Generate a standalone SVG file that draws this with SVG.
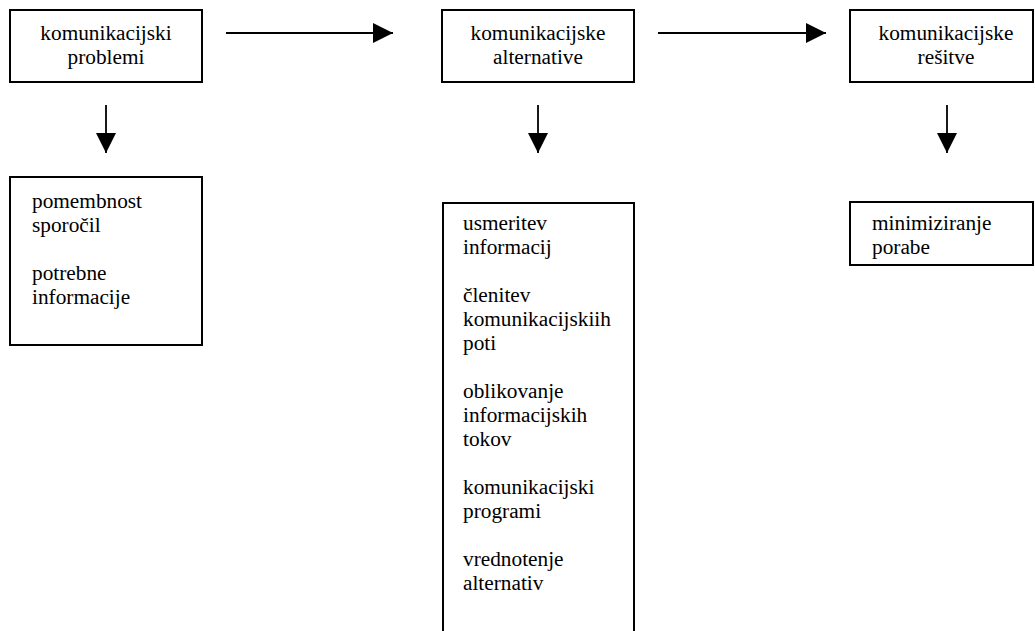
<svg xmlns="http://www.w3.org/2000/svg" width="1035" height="631" viewBox="0 0 1035 631">
<style>
.box{fill:#fff;stroke:#000;stroke-width:2}
.c{text-anchor:middle}
.ln{stroke:#000;stroke-width:1.8;fill:none}
</style>
<defs>
<marker id="ah" markerWidth="20" markerHeight="20" viewBox="0 0 20 20" refX="20" refY="10" orient="auto" markerUnits="userSpaceOnUse">
<path d="M0,0 L20,10 L0,20 Z" fill="#000"/>
</marker>
</defs>
<g id="connectors">
<line class="ln" x1="226" y1="33" x2="393" y2="33" marker-end="url(#ah)"/>
<line class="ln" x1="658" y1="33" x2="826" y2="33" marker-end="url(#ah)"/>
<line class="ln" x1="106" y1="105" x2="106" y2="153" marker-end="url(#ah)"/>
<line class="ln" x1="538" y1="105" x2="538" y2="153" marker-end="url(#ah)"/>
<line class="ln" x1="947" y1="105" x2="947" y2="153" marker-end="url(#ah)"/>
</g>
<g font-family="Liberation Serif, DejaVu Serif, serif" font-size="21.3" fill="#000">
<g id="n1">
<rect class="box" x="10" y="10" width="192" height="72"/>
<text class="c" x="106" y="40">komunikacijski</text>
<text class="c" x="106" y="64">problemi</text>
</g>
<g id="n2">
<rect class="box" x="442" y="10" width="192" height="72"/>
<text class="c" x="538" y="40">komunikacijske</text>
<text class="c" x="538" y="64">alternative</text>
</g>
<g id="n3">
<rect class="box" x="850" y="10" width="183" height="72"/>
<text class="c" x="946" y="40">komunikacijske</text>
<text class="c" x="946" y="64">rešitve</text>
</g>
<g id="n4">
<rect class="box" x="10" y="177" width="192" height="168"/>
<text x="32" y="208">pomembnost</text>
<text x="32" y="232">sporočil</text>
<text x="32" y="280">potrebne</text>
<text x="32" y="304">informacije</text>
</g>
<g id="n5">
<rect class="box" x="443" y="203" width="191" height="440"/>
<text x="463" y="230">usmeritev</text>
<text x="463" y="254">informacij</text>
<text x="463" y="302">členitev</text>
<text x="463" y="326">komunikacijskiih</text>
<text x="463" y="350">poti</text>
<text x="463" y="398">oblikovanje</text>
<text x="463" y="422">informacijskih</text>
<text x="463" y="446">tokov</text>
<text x="463" y="494">komunikacijski</text>
<text x="463" y="518">programi</text>
<text x="463" y="566">vrednotenje</text>
<text x="463" y="590">alternativ</text>
</g>
<g id="n6">
<rect class="box" x="850" y="202" width="183" height="63"/>
<text x="872" y="230">minimiziranje</text>
<text x="872" y="254">porabe</text>
</g>
</g>
</svg>
